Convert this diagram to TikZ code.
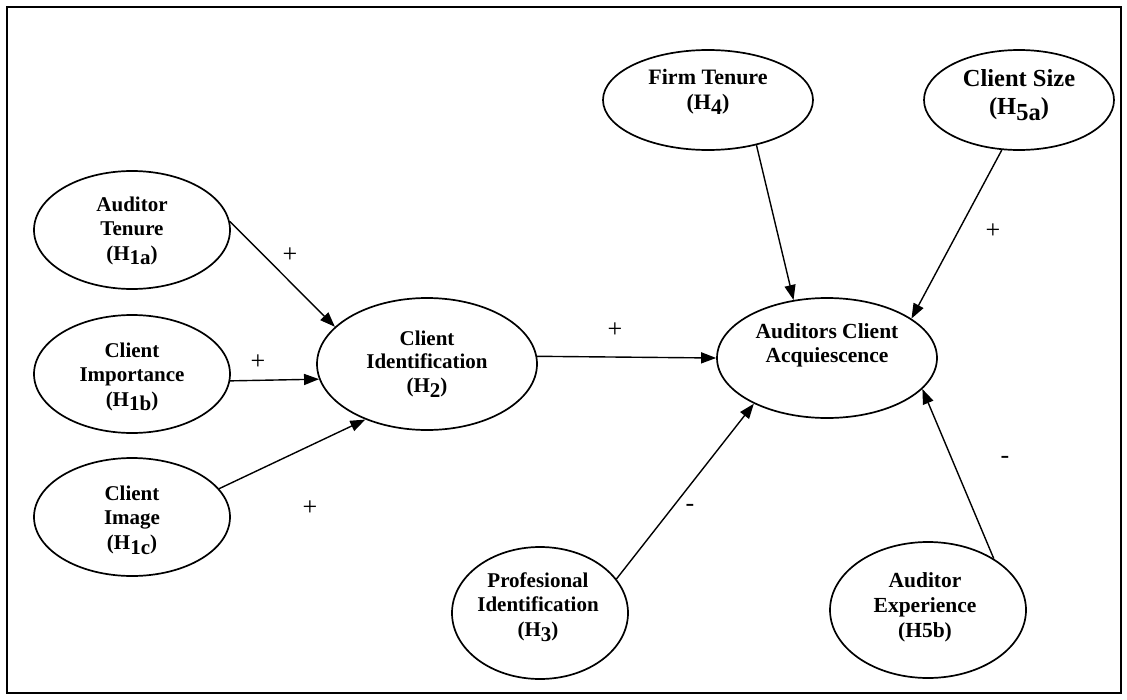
\documentclass[tikz,border=0pt]{standalone}
\usepackage{fontspec}
\setmainfont{Liberation Serif}
\usetikzlibrary{shapes.geometric,arrows.meta}
\newcommand\lowsub[1]{\raisebox{-0.22em}{#1}}
\begin{document}
\begin{tikzpicture}[x=1pt,y=-1pt,
  ell/.style={draw,ellipse,line width=1.7pt,inner sep=0pt},
  txt/.style={align=center,inner sep=0pt,font=\fontsize{21}{24.5}\selectfont\bfseries},
  arr/.style={line width=1.4pt,-{Triangle[length=15pt,width=11pt]}},
  sign/.style={inner sep=0pt,font=\fontsize{26}{28}\selectfont}]
\useasboundingbox (0,0) rectangle (1127,699);
\draw[line width=1.7pt] (7,7) rectangle (1121,693);

% left column
\node[ell,minimum width=196pt,minimum height=118pt] (at) at (132,230) {};
\node[txt] (att) at (132,231) {Auditor\\Tenure\\(H\lowsub{1a})};
\node[ell,minimum width=196pt,minimum height=118pt] (cimp) at (132,374) {};
\node[txt] (cimpt) at (132,377) {Client\\Importance\\(H\lowsub{1b})};
\node[ell,minimum width=196pt,minimum height=118pt] (cimg) at (132,517) {};
\node[txt] (cimgt) at (132,520) {Client\\Image\\(H\lowsub{1c})};

% client identification
\node[ell,minimum width=220pt,minimum height=132pt] (ci) at (427,364) {};
\node[txt,font=\fontsize{21}{23.5}\selectfont\bfseries] (cit) at (427,364) {Client\\Identification\\(H\lowsub{2})};

% acquiescence
\node[ell,minimum width=220pt,minimum height=120pt] (aca) at (827,358) {};
\node[txt,font=\fontsize{21.5}{24}\selectfont\bfseries] (acat) at (827,345) {Auditors Client\\Acquiescence};

% top
\node[ell,minimum width=210pt,minimum height=100pt] (ft) at (708,100) {};
\node[txt,font=\fontsize{22}{25}\selectfont\bfseries] (ftt) at (708,92) {Firm Tenure\\(H\lowsub{4})};
\node[ell,minimum width=190pt,minimum height=100pt] (cs) at (1019,100) {};
\node[txt,font=\fontsize{24.5}{28}\selectfont\bfseries] (cst) at (1019,95) {Client Size\\(H\lowsub{5a})};

% bottom
\node[ell,minimum width=176pt,minimum height=132pt] (pi) at (540,613) {};
\node[txt] (pit) at (538,607) {Profesional\\Identification\\(H\lowsub{3})};
\node[ell,minimum width=196pt,minimum height=136pt] (ae) at (928,610) {};
\node[txt,font=\fontsize{21.5}{25}\selectfont\bfseries] (aet) at (925,607) {Auditor\\Experience\\(H5b)};

% connectors
\draw[arr] (at.5) -- (ci.158);
\draw[arr] (cimp.-4) -- (ci.188.5);
\draw[arr] (cimg.18) -- (ci.222);
\draw[arr] (ci.4) -- (aca.west);
\draw[arr] (ft.-43) -- (aca.120);
\draw[arr] (cs.251) -- (aca.25);
\draw[arr] (pi.24) -- (aca.212);
\draw[arr] (ae.38) -- (aca.-18);

% signs
\node[sign] (s1) at (290,255) {+};
\node[sign] (s2) at (258,362) {+};
\node[sign] (s3) at (310,508) {+};
\node[sign] (s4) at (615,330) {+};
\node[sign] (s5) at (993,231) {+};
\node[sign] (s6) at (690,508) {-};
\node[sign] (s7) at (1005,460) {-};
\end{tikzpicture}
\end{document}
